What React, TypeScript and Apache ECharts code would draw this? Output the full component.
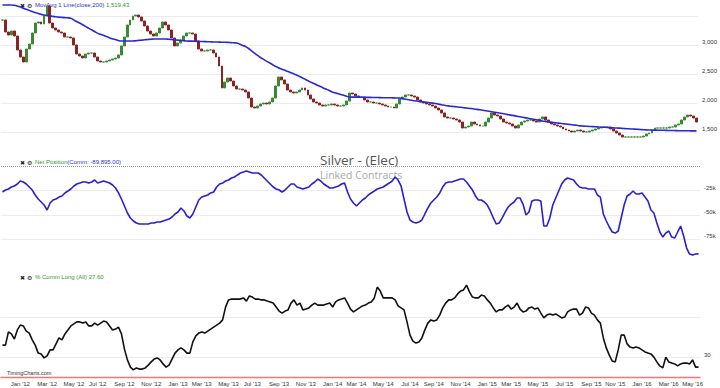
import React, { useEffect, useRef } from 'react';
import * as echarts from 'echarts';

// Weekly closes (cents/oz), weeks starting 2011-11-21
const closes = [
  3431, 3224, 3172, 3241, 3155, 2914, 2793, 2707, 2931, 3017,
  3207, 3379, 3397, 3362, 3500, 3672, 3379, 3293, 3259, 3224,
  3207, 3138, 3138, 3121, 3000, 2845, 2810, 2776, 2845, 2862,
  2862, 2793, 2724, 2707, 2707, 2724, 2741, 2759, 2776, 2828,
  2983, 3138, 3345, 3431, 3500, 3517, 3483, 3414, 3328, 3241,
  3190, 3155, 3207, 3293, 3397, 3345, 3259, 3121, 2983, 3034,
  3086, 3155, 3207, 3207, 3190, 3069, 2931, 2897, 2897, 2914,
  2914, 2862, 2793, 2638, 2259, 2362, 2431, 2379, 2293, 2241,
  2241, 2224, 2190, 2086, 1931, 1914, 1948, 1983, 2000, 1983,
  2017, 2086, 2293, 2448, 2397, 2328, 2224, 2190, 2172, 2190,
  2224, 2259, 2224, 2138, 2069, 2017, 2000, 1966, 1948, 1966,
  1966, 1983, 1966, 1948, 1948, 1966, 2034, 2172, 2155, 2121,
  2103, 2103, 2052, 2017, 2017, 2000, 2000, 1983, 1966, 1948,
  1931, 1931, 1914, 1983, 2069, 2103, 2138, 2138, 2121, 2103,
  2052, 2017, 2000, 1983, 1966, 1948, 1914, 1879, 1828, 1759,
  1741, 1741, 1724, 1707, 1672, 1569, 1586, 1603, 1672, 1638,
  1621, 1603, 1603, 1672, 1741, 1828, 1793, 1776, 1724, 1672,
  1655, 1638, 1603, 1569, 1621, 1672, 1690, 1707, 1707, 1690,
  1672, 1724, 1759, 1707, 1672, 1638, 1621, 1603, 1586, 1552,
  1534, 1517, 1500, 1517, 1534, 1517, 1500, 1500, 1517, 1534,
  1552, 1569, 1586, 1586, 1586, 1552, 1517, 1483, 1448, 1414,
  1414, 1414, 1414, 1414, 1414, 1414, 1431, 1466, 1483, 1534,
  1569, 1569, 1569, 1569, 1569, 1586, 1586, 1621, 1638, 1707,
  1759, 1793, 1776, 1741, 1672,
];

// 200-day moving average
const movAvg = [
  3690, 3690, 3690, 3690, 3684, 3671, 3655, 3634, 3615, 3597,
  3576, 3559, 3543, 3529, 3516, 3509, 3502, 3493, 3486, 3481,
  3476, 3472, 3469, 3460, 3433, 3405, 3378, 3350, 3321, 3291,
  3262, 3233, 3205, 3184, 3166, 3145, 3126, 3109, 3093, 3079,
  3069, 3069, 3069, 3069, 3069, 3074, 3079, 3084, 3090, 3095,
  3100, 3103, 3103, 3103, 3103, 3103, 3100, 3095, 3090, 3084,
  3079, 3074, 3069, 3067, 3066, 3064, 3062, 3060, 3059, 3057,
  3055, 3053, 3052, 3050, 3048, 3047, 3045, 3041, 3038, 3034,
  3014, 2993, 2972, 2940, 2900, 2860, 2821, 2784, 2753, 2722,
  2693, 2664, 2633, 2609, 2588, 2567, 2547, 2526, 2507, 2486,
  2460, 2435, 2409, 2383, 2357, 2335, 2310, 2288, 2264, 2241,
  2219, 2195, 2178, 2164, 2148, 2134, 2117, 2103, 2102, 2102,
  2100, 2098, 2098, 2097, 2097, 2095, 2095, 2093, 2091, 2091,
  2090, 2090, 2088, 2086, 2085, 2074, 2066, 2057, 2047, 2038,
  2031, 2024, 2017, 2012, 2005, 1998, 1990, 1981, 1971, 1962,
  1953, 1945, 1940, 1935, 1928, 1923, 1916, 1909, 1904, 1897,
  1890, 1883, 1876, 1867, 1859, 1850, 1840, 1831, 1823, 1814,
  1804, 1795, 1786, 1778, 1767, 1759, 1748, 1740, 1729, 1719,
  1710, 1702, 1691, 1683, 1674, 1667, 1662, 1655, 1650, 1643,
  1638, 1631, 1624, 1619, 1612, 1605, 1602, 1598, 1595, 1593,
  1590, 1586, 1583, 1581, 1578, 1574, 1571, 1569, 1566, 1562,
  1559, 1555, 1552, 1550, 1547, 1543, 1540, 1536, 1534, 1533,
  1533, 1531, 1529, 1529, 1528, 1526, 1526, 1524, 1522, 1522,
  1521, 1521, 1520, 1520, 1519.43,
];

// Commercials net position (contracts)
const netPosition = [
  -26300, -24300, -23200, -21200, -20100, -18100, -15000, -16000, -18100, -21200,
  -24300, -29400, -33500, -36600, -39700, -44800, -37600, -34500, -33500, -31500,
  -30400, -27300, -25300, -23200, -20100, -18100, -17100, -16000, -16000, -17100,
  -16000, -14000, -17100, -16000, -15000, -16000, -17100, -19100, -22200, -27300,
  -33500, -40700, -47900, -53000, -56100, -58200, -59200, -59200, -59200, -59200,
  -58200, -58200, -57200, -57200, -56100, -55100, -54100, -52000, -48900, -46900,
  -42800, -45800, -51000, -53000, -48900, -41700, -34500, -31500, -30400, -29400,
  -27300, -26300, -21200, -18100, -17100, -15000, -14000, -11900, -10900, -8800,
  -6800, -5800, -4700, -5800, -6800, -6800, -6800, -8800, -11900, -15000,
  -18100, -21200, -23200, -24300, -26300, -24300, -21200, -18100, -18100, -21200,
  -22200, -23200, -22200, -21200, -18100, -16000, -13000, -15000, -18100, -20100,
  -22200, -22200, -21200, -20100, -18100, -17100, -26300, -33500, -37600, -40700,
  -37600, -34500, -32500, -29400, -27300, -25300, -23200, -22200, -21200, -19100,
  -17100, -15000, -10900, -14000, -20100, -33500, -46900, -55100, -57200, -58200,
  -57200, -55100, -48900, -42800, -37600, -34500, -31500, -27300, -21200, -17100,
  -16000, -16000, -15000, -14000, -13000, -13000, -16000, -20100, -24300, -30400,
  -34500, -34500, -36600, -39700, -45800, -53000, -59200, -58200, -53000, -46900,
  -41700, -38700, -36600, -32500, -32500, -38700, -50000, -46900, -35600, -34500,
  -34500, -35600, -61300, -61300, -53000, -39700, -32500, -25300, -18100, -14000,
  -11900, -13000, -14000, -18100, -21200, -22200, -22200, -23200, -23200, -23200,
  -29400, -31500, -48900, -56100, -62300, -67400, -68500, -66400, -53000, -39700,
  -30400, -28400, -25300, -28400, -28400, -27300, -31500, -35600, -44800, -47900,
  -58200, -67400, -72600, -68500, -66400, -72600, -73600, -67400, -61300, -71500,
  -83900, -90100, -91100, -90100, -89895,
];

// % Commercials long (all)
const commLong = [
  33.1, 33.1, 36.4, 35.9, 34.6, 36.9, 38.1, 37.9, 36.6, 36.1,
  34.4, 33.1, 31.1, 30.9, 29.9, 30.4, 31.9, 31.9, 33.4, 34.9,
  34.4, 35.9, 36.9, 37.9, 38.4, 38.9, 38.9, 38.6, 38.9, 37.9,
  37.9, 38.6, 38.1, 38.6, 39.1, 38.9, 37.9, 36.9, 37.1, 37.6,
  35.9, 32.1, 29.4, 27.6, 26.9, 27.4, 27.1, 27.1, 27.4, 28.1,
  28.9, 29.6, 29.9, 29.4, 28.4, 27.6, 28.1, 29.6, 31.1, 31.9,
  32.4, 31.9, 31.1, 31.1, 33.9, 35.4, 36.1, 36.4, 36.1, 36.6,
  37.1, 37.6, 38.1, 38.6, 39.4, 42.6, 44.4, 44.6, 44.6, 44.6,
  44.6, 44.9, 44.1, 45.4, 45.1, 44.6, 44.6, 44.4, 44.4, 44.1,
  43.9, 43.6, 42.6, 41.6, 41.1, 41.6, 41.9, 43.6, 44.4, 43.1,
  43.6, 41.9, 42.1, 42.4, 43.1, 43.6, 43.1, 43.1, 43.1, 43.4,
  43.6, 42.6, 43.9, 44.4, 44.6, 44.9, 43.6, 42.1, 41.4, 41.9,
  42.4, 42.9, 43.1, 43.6, 43.9, 44.9, 47.6, 46.6, 44.9, 44.9,
  44.9, 44.9, 44.4, 42.9, 42.4, 41.9, 38.9, 35.6, 34.1, 33.6,
  33.9, 34.9, 36.9, 38.6, 39.4, 39.1, 39.4, 40.6, 42.4, 43.6,
  44.4, 44.4, 44.9, 45.9, 46.6, 46.9, 48.1, 46.4, 45.1, 44.9,
  44.9, 45.6, 45.4, 44.4, 43.6, 42.4, 41.4, 41.9, 41.9, 42.6,
  43.1, 42.1, 42.6, 43.6, 42.1, 41.4, 41.6, 42.4, 42.6, 42.1,
  42.4, 41.1, 39.9, 40.6, 40.9, 40.6, 40.9, 40.4, 39.9, 40.1,
  41.4, 41.9, 42.1, 42.1, 40.6, 41.1, 42.6, 42.4, 41.1, 40.6,
  39.4, 38.6, 34.9, 32.4, 30.6, 29.1, 28.9, 31.9, 35.6, 35.6,
  33.4, 32.6, 32.4, 32.6, 32.4, 31.9, 31.4, 31.1, 30.9, 30.1,
  28.9, 27.9, 27.4, 30.1, 28.9, 28.6, 28.4, 27.9, 28.4, 28.6,
  28.6, 28.4, 29.4, 27.6, 27.6,
];

const priceLabels = [1500, 2000, 2500, 3000];
const netLabels = [-25000, -50000, -75000];
const commLabels = [30];
const monthNames = ['Jan', 'Feb', 'Mar', 'Apr', 'May', 'Jun', 'Jul', 'Aug', 'Sep', 'Oct', 'Nov', 'Dec'];

function weeklyDates(n: number): string[] {
  const out: string[] = [];
  const d = new Date(Date.UTC(2011, 10, 21));
  for (let i = 0; i < n; i++) {
    out.push(d.toISOString().slice(0, 10));
    d.setUTCDate(d.getUTCDate() + 7);
  }
  return out;
}

const FONT = 'Liberation Sans, Arial, sans-serif';

export default function App() {
  const ref = useRef<HTMLDivElement>(null);
  useEffect(() => {
    document.body.style.margin = '0';
    const chart = echarts.init(ref.current as HTMLDivElement, null, { renderer: 'svg' });
    const cats = weeklyDates(closes.length);
    const candles = closes.map((c, i) => {
      const o = i === 0 ? c : closes[i - 1];
      return [o, c, Math.min(o, c), Math.max(o, c)];
    });
    const grid = { left: 1, right: 20 };
    const xBase = (gi: number, show: boolean) => ({
      type: 'category',
      gridIndex: gi,
      data: cats,
      show,
      axisTick: { show: false },
      axisLine: { show, lineStyle: { color: '#ee7777', width: 1.3 } },
      axisLabel: {
        show,
        fontSize: 6,
        color: '#333',
        fontFamily: FONT,
        margin: 3,
        hideOverlap: false,
        interval: (_i: number, v: string) => {
          const m = +v.slice(5, 7) - 1;
          const day = +v.slice(8, 10);
          return m % 2 === 0 && day <= 7;
        },
        formatter: (v: string) => monthNames[+v.slice(5, 7) - 1] + " '" + v.slice(2, 4),
      },
    });
    const yLabel = (fmt: (v: number) => string) => ({
      fontSize: 6,
      color: '#333',
      fontFamily: FONT,
      margin: 4,
      verticalAlign: 'bottom',
      formatter: fmt,
    });
    const iconRow = (y: number) => [
      { type: 'text', x: 20, y, style: { text: '✖', font: '6px DejaVu Sans', fill: '#222', verticalAlign: 'middle' } },
      { type: 'text', x: 27, y, style: { text: '⚙', font: '6px DejaVu Sans', fill: '#222', verticalAlign: 'middle' } },
    ];
    const option: any = {
      animation: false,
      backgroundColor: '#fff',
      grid: [
        { ...grid, top: 1.5, height: 145 },
        { ...grid, top: 166.4, height: 97.3 },
        { ...grid, top: 277.5, height: 100 },
      ],
      xAxis: [xBase(0, false), xBase(1, false), xBase(2, true)],
      yAxis: [
        {
          type: 'value', gridIndex: 0, position: 'right', min: 1250, max: 3750, interval: 250,
          axisLine: { show: false }, axisTick: { show: false },
          splitLine: { show: true, lineStyle: { color: ['transparent', '#ececec'], width: 1 } },
          axisLabel: yLabel((v: number) => (priceLabels.includes(v) ? v.toLocaleString('en-US') : '')),
        },
        {
          type: 'value', gridIndex: 1, position: 'right', min: -100000, max: 0, interval: 25000,
          axisLine: { show: false }, axisTick: { show: false },
          splitLine: { show: true, lineStyle: { color: ['transparent', '#ececec', '#ececec', '#ececec', 'transparent'], width: 1 } },
          axisLabel: yLabel((v: number) => (netLabels.includes(v) ? v / 1000 + 'k' : '')),
        },
        {
          type: 'value', gridIndex: 2, position: 'right', min: 25, max: 50, interval: 5,
          axisLine: { show: false }, axisTick: { show: false },
          splitLine: { show: true, lineStyle: { color: ['transparent', '#ececec', 'transparent', '#ececec', 'transparent', 'transparent'], width: 1 } },
          axisLabel: yLabel((v: number) => (commLabels.includes(v) ? String(v) : '')),
        },
      ],
      series: [
        {
          type: 'candlestick', xAxisIndex: 0, yAxisIndex: 0, data: candles, barWidth: 2.4,
          itemStyle: { color: '#3a8a34', color0: '#8a2424', borderColor: '#3a8a34', borderColor0: '#8a2424', borderWidth: 1 },
        },
        {
          type: 'line', xAxisIndex: 0, yAxisIndex: 0, data: movAvg, showSymbol: false, smooth: true,
          lineStyle: { color: '#2a28d2', width: 1.6 },
        },
        {
          type: 'line', xAxisIndex: 1, yAxisIndex: 1, data: netPosition, showSymbol: false,
          lineStyle: { color: '#2b1fd0', width: 1.6 },
          markLine: {
            silent: true, symbol: ['none', 'none'], label: { show: false },
            lineStyle: { type: 'dotted', color: '#999', width: 1 },
            data: [{ yAxis: 0 }],
          },
        },
        {
          type: 'line', xAxisIndex: 2, yAxisIndex: 2, data: commLong, showSymbol: false,
          lineStyle: { color: '#111', width: 1.6 },
        },
      ],
      graphic: [
        ...iconRow(5),
        ...iconRow(162),
        ...iconRow(277),
        {
          type: 'text', x: 35, y: 5,
          style: {
            text: '{b|MovAvg 1 Line(close,200)} {g|1,519.43}', verticalAlign: 'middle', font: '6px ' + FONT,
            rich: { b: { fill: '#3030cc', fontSize: 6, fontFamily: FONT }, g: { fill: '#2f9a2f', fontSize: 6, fontFamily: FONT } },
          },
        },
        {
          type: 'text', x: 35, y: 162,
          style: {
            text: '{g|Net Position}{b|(Comm: -89,895.00)}', verticalAlign: 'middle', font: '6px ' + FONT,
            rich: { b: { fill: '#3030cc', fontSize: 6, fontFamily: FONT }, g: { fill: '#2f9a2f', fontSize: 6, fontFamily: FONT } },
          },
        },
        {
          type: 'text', x: 35, y: 277,
          style: { text: '% Comm Long (All) 27.60', verticalAlign: 'middle', font: '6px ' + FONT, fill: '#2f9a2f' },
        },
        {
          type: 'text', x: 320, y: 159.5,
          style: { text: 'Silver - (Elec)', verticalAlign: 'middle', font: '13.5px Open Sans', fill: '#555' },
        },
        {
          type: 'text', x: 320, y: 174.5,
          style: { text: 'Linked Contracts', verticalAlign: 'middle', font: '10.5px Open Sans', fill: '#aaa' },
        },
        {
          type: 'text', x: 7, y: 373,
          style: { text: 'TimingCharts.com', verticalAlign: 'middle', font: '5.5px ' + FONT, fill: '#333' },
        },
      ],
    };
    chart.setOption(option);
    return () => chart.dispose();
  }, []);
  return <div ref={ref} style={{ position: 'fixed', left: 0, top: 0, width: 720, height: 388, background: '#fff' }} />;
}
